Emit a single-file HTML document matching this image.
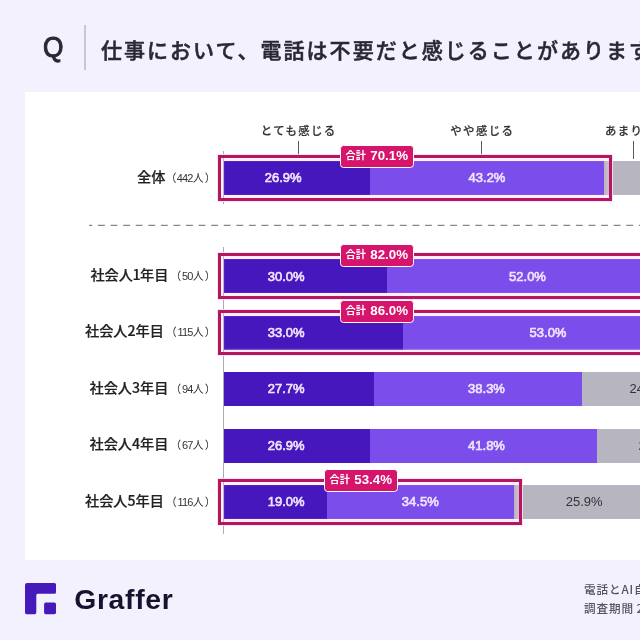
<!DOCTYPE html>
<html lang="ja">
<head>
<meta charset="utf-8">
<title>Graffer 調査</title>
<style>
*{margin:0;padding:0;box-sizing:border-box}
html,body{width:640px;height:640px;overflow:hidden}
body{background:#f4f1fe;font-family:"Liberation Sans","Noto Sans CJK JP",sans-serif;color:#2a2736;position:relative}
.abs{position:absolute;white-space:nowrap}
#q{left:43px;top:31.2px;font-size:30px;line-height:32px;font-weight:400;-webkit-text-stroke:1.1px #2a2736;color:#2a2736;transform:scaleX(.875);transform-origin:0 0}
#div{left:83.8px;top:25px;width:2px;height:45px;background:#cac5d8}
#title{left:101px;top:33px;font-size:21px;line-height:32px;font-weight:500;-webkit-text-stroke:.5px #2a2736;letter-spacing:2.03px;font-family:"Noto Sans CJK JP","Liberation Sans",sans-serif;color:#2a2736}
#panel{left:24.5px;top:91.75px;width:700px;height:468.5px;background:#fff}
.leg{font-family:"Noto Sans CJK JP","Liberation Sans",sans-serif;font-size:11.4px;line-height:14px;font-weight:500;-webkit-text-stroke:.2px #333;letter-spacing:1.4px;color:#333;top:122.9px}
.lead{width:1.2px;background:#5a5a5a;top:141px}
.axis{width:1.2px;background:#aeacb2;left:223.3px}
.row{left:0;width:900px;height:34px}
.bar{position:absolute;top:0;height:34px}
.d{background:#4517bd}
.l{background:#7b4deb}
.g{background:#b7b5bf}
.pct{position:absolute;top:.3px;height:34px;line-height:34px;font-size:13px;font-weight:400;-webkit-text-stroke:.65px #f0e2ff;color:#f0e2ff;transform:scaleY(1.05);text-align:center;width:60px;margin-left:-30px}
.pct.k{color:#333;font-weight:400;font-size:13px;-webkit-text-stroke:0}
.lab{position:absolute;right:690.5px;top:-2.3px;height:34px;line-height:34px;font-family:"Noto Sans CJK JP","Liberation Sans",sans-serif;font-size:14.2px;font-weight:500;-webkit-text-stroke:.2px #222;color:#222;text-align:right}
.lab small{font-family:"Liberation Sans","Noto Sans CJK JP",sans-serif;font-size:11px;font-weight:400;-webkit-text-stroke:0;color:#333;letter-spacing:-.45px;margin-left:1.8px;margin-right:-5.9px}
.lab i{font-style:normal;margin:0 -.5px}
.lab small u{text-decoration:none;margin:0 1.6px 0 1.2px;letter-spacing:-.8px}
.lab small u b{font-weight:400;letter-spacing:-.45px}
.box{position:absolute;left:217.5px;top:-6.2px;height:45.8px;border:3px solid #b2185f;box-shadow:0 0 0 1px rgba(255,222,242,.85), inset 0 0 0 3.2px rgba(255,200,235,.3)}
.badge{position:absolute;top:-15.7px;height:23px;width:73.5px;border:1.4px solid #fff;border-radius:3.6px;background:#d6146b;color:#fff;font-weight:700;font-size:13.3px;line-height:20.2px;text-align:center}
.badge i{font-style:normal;font-family:"Noto Sans CJK JP",sans-serif;font-size:10.2px;font-weight:700;margin-right:4.4px;position:relative;top:-1px}
#dash{left:88.5px;top:222px}
#logo{left:25.1px;top:582.7px}
#brand{left:74.2px;top:581.6px;font-size:28.3px;line-height:34px;font-weight:700;letter-spacing:.7px;color:#17132e}
.ft{left:584px;font-family:"Noto Sans CJK JP","Liberation Sans",sans-serif;font-size:11.6px;line-height:14px;letter-spacing:.9px;font-weight:500;color:#55535f}
</style>
</head>
<body>
<div class="abs" id="q">Q</div>
<div class="abs" id="div"></div>
<div class="abs" id="title">仕事において、電話は不要だと感じることがありますか？</div>
<div class="abs" id="panel"></div>

<div class="abs leg" style="left:260.8px">とても感じる</div>
<div class="abs leg" style="left:450.3px">やや感じる</div>
<div class="abs leg" style="left:604.9px">あまり感じない</div>
<div class="abs lead" style="left:297.5px;height:15.5px"></div>
<div class="abs lead" style="left:481.2px;height:15.5px"></div>
<div class="abs lead" style="left:633.3px;height:17.5px"></div>

<div class="abs axis" style="top:150.5px;height:53px"></div>
<div class="abs axis" style="top:247px;height:286.5px"></div>
<svg class="abs" id="dash" width="600" height="7" viewBox="0 0 600 7"><line x1="0" y1="3.4" x2="600" y2="3.4" stroke="#888" stroke-width="1.1" stroke-dasharray="6.9 5.678" stroke-dashoffset="3.6"/></svg>

<!-- row 1 -->
<div class="abs row" style="top:161px">
  <div class="lab">全体<small style="margin-left:.25px">（<u style="margin-left:.55px">442<b>人</b></u>）</small></div>
  <div class="bar d" style="left:223.6px;width:146.4px"></div>
  <div class="bar l" style="left:370px;width:234.2px"></div>
  <div class="bar g" style="left:604.2px;width:120px"></div>
  <div class="pct" style="left:283.2px">26.9%</div>
  <div class="pct" style="left:487px">43.2%</div>
  <div class="box" style="width:394.5px"></div>
  <div class="badge" style="left:340px"><i>合計</i>70.1%</div>
</div>
<!-- row 2 -->
<div class="abs row" style="top:259.3px">
  <div class="lab">社会人<i>1</i>年目<small>（<u>50<b>人</b></u>）</small></div>
  <div class="bar d" style="left:223.6px;width:163.4px"></div>
  <div class="bar l" style="left:387px;width:282px"></div>
  <div class="pct" style="left:286.2px">30.0%</div>
  <div class="pct" style="left:527.5px">52.0%</div>
  <div class="box" style="width:460px"></div>
  <div class="badge" style="left:340px"><i>合計</i>82.0%</div>
</div>
<!-- row 3 -->
<div class="abs row" style="top:315.75px">
  <div class="lab">社会人2年目<small>（<u>115<b>人</b></u>）</small></div>
  <div class="bar d" style="left:223.6px;width:179.4px"></div>
  <div class="bar l" style="left:403px;width:288px"></div>
  <div class="pct" style="left:286.2px">33.0%</div>
  <div class="pct" style="left:548px">53.0%</div>
  <div class="box" style="width:480px"></div>
  <div class="badge" style="left:340px"><i>合計</i>86.0%</div>
</div>
<!-- row 4 -->
<div class="abs row" style="top:372.2px">
  <div class="lab">社会人3年目<small>（<u>94<b>人</b></u>）</small></div>
  <div class="bar d" style="left:223.6px;width:150.3px"></div>
  <div class="bar l" style="left:373.9px;width:208.5px"></div>
  <div class="bar g" style="left:582.4px;width:133px"></div>
  <div class="pct" style="left:286.2px">27.7%</div>
  <div class="pct" style="left:486.5px">38.3%</div>
  <div class="pct k" style="left:648px">24.5%</div>
</div>
<!-- row 5 -->
<div class="abs row" style="top:428.65px">
  <div class="lab">社会人4年目<small>（<u>67<b>人</b></u>）</small></div>
  <div class="bar d" style="left:223.6px;width:146.2px"></div>
  <div class="bar l" style="left:369.8px;width:227.2px"></div>
  <div class="bar g" style="left:597px;width:121px"></div>
  <div class="pct" style="left:286.2px">26.9%</div>
  <div class="pct" style="left:486.5px">41.8%</div>
  <div class="pct k" style="left:657px">22.4%</div>
</div>
<!-- row 6 -->
<div class="abs row" style="top:485.1px">
  <div class="lab">社会人5年目<small>（<u>116<b>人</b></u>）</small></div>
  <div class="bar d" style="left:223.6px;width:103.4px"></div>
  <div class="bar l" style="left:327px;width:187px"></div>
  <div class="bar g" style="left:514px;width:140.6px"></div>
  <div class="pct" style="left:286.2px">19.0%</div>
  <div class="pct" style="left:420.3px">34.5%</div>
  <div class="pct k" style="left:584.2px">25.9%</div>
  <div class="box" style="width:304.8px"></div>
  <div class="badge" style="left:324px"><i>合計</i>53.4%</div>
</div>

<svg class="abs" id="logo" width="32" height="32" viewBox="0 0 32 32">
  <path d="M2 0H29.4a1.6 1.6 0 0 1 1.6 1.6V9.3a1.5 1.5 0 0 1-1.5 1.5H12.8a1.5 1.5 0 0 0-1.5 1.5V29.6a1.6 1.6 0 0 1-1.6 1.6H1.6a1.6 1.6 0 0 1-1.6-1.6V2a2 2 0 0 1 2-2Z" fill="#4619ba"/>
  <rect x="19.1" y="19.6" width="11.9" height="11.6" rx="1.6" fill="#4619ba"/>
</svg>
<div class="abs" id="brand">Graffer</div>
<div class="abs ft" style="top:582.3px">電話とAI自動応答に関する意識調査</div>
<div class="abs ft" style="top:601px;word-spacing:-1px">調査期間 2024年</div>
</body>
</html>
